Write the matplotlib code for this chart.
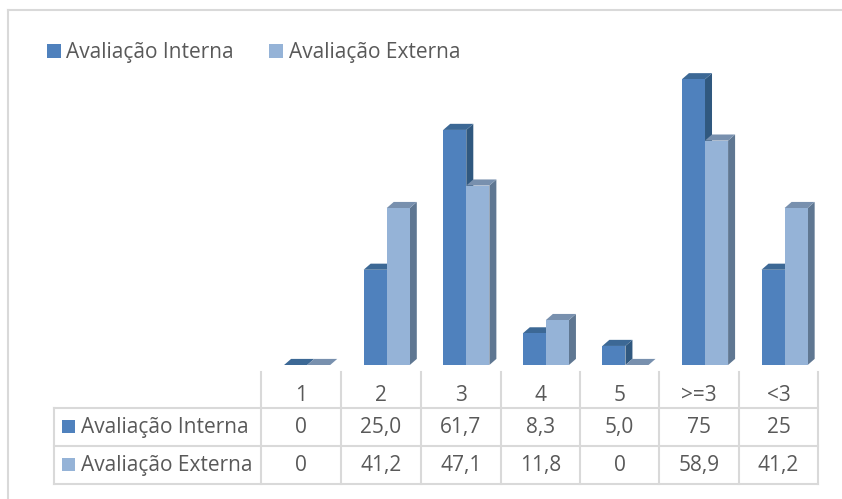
import matplotlib.pyplot as plt
from matplotlib.patches import Polygon, Rectangle
from matplotlib.lines import Line2D

# dados
categorias = ["1", "2", "3", "4", "5", ">=3", "<3"]
interna_txt = ["0", "25,0", "61,7", "8,3", "5,0", "75", "25"]
externa_txt = ["0", "41,2", "47,1", "11,8", "0", "58,9", "41,2"]
interna = [float(v.replace(",", ".")) for v in interna_txt]
externa = [float(v.replace(",", ".")) for v in externa_txt]
series = ["Avaliação Interna", "Avaliação Externa"]

# cores (frente, topo, lado)
cores = [("#4F81BD", "#3C6895", "#30587F"),
         ("#95B3D7", "#7890AE", "#5F7792")]
grade = "#D9D9D9"
texto = "#595959"

plt.rcParams['font.family'] = ['Open Sans', 'DejaVu Sans']
fs = 15

W, H = 842, 499
fig = plt.figure(figsize=(W / 100, H / 100), dpi=100)


def fx(x):
    return x / W


def fy(y):
    return 1 - y / H


def linha(x0, y0, x1, y1):
    fig.add_artist(Line2D([fx(x0), fx(x1)], [fy(y0), fy(y1)], color=grade, linewidth=1.5))


def rotulo(x, y, s, ha='center'):
    fig.text(fx(x), fy(y), s, fontsize=fs, color=texto, ha=ha, va='baseline')


# moldura do gráfico (só topo e esquerda aparecem)
linha(8, 10, W + 5, 10)
linha(8, 10, 8, H + 5)

# área das barras
ax = fig.add_axes([fx(261), fy(365), 557 / W, 304.8 / H])
ax.set_xlim(-0.5, 6.5)
ax.set_ylim(0, 80)
ax.axis('off')

w = 0.29      # largura de cada barra
desl = 0.08   # deslocamento do par
dx, dy = 0.088, 1.6  # profundidade 3D

for s, vals in enumerate([interna, externa]):
    frente, topo, lado = cores[s]
    for i, v in enumerate(vals):
        x0 = i + desl - w + s * w
        ax.add_patch(Polygon([(x0 + w, 0), (x0 + w + dx, dy), (x0 + w + dx, v + dy), (x0 + w, v)],
                             closed=True, facecolor=lado, edgecolor='none', clip_on=False))
        ax.add_patch(Polygon([(x0, v), (x0 + w, v), (x0 + w + dx, v + dy), (x0 + dx, v + dy)],
                             closed=True, facecolor=topo, edgecolor='none', clip_on=False))
        ax.bar(x0, v, width=w, align='edge', color=frente, edgecolor='none', clip_on=False)

# legenda superior
leg_x = [(47, 66), (269, 289)]
for s, nome in enumerate(series):
    qx, tx = leg_x[s]
    fig.add_artist(Rectangle((fx(qx), fy(58)), 14 / W, 14 / H, transform=fig.transFigure,
                             facecolor=cores[s][0], edgecolor='none'))
    rotulo(tx, 58, nome, ha='left')

# tabela de dados
bordas = [261, 341, 420.7, 500.7, 580, 659.3, 738.7, 818.3]
for y in [407.5, 446, 484]:
    linha(54, y, 818.3, y)
for x in bordas:
    linha(x, 371.5, x, 484)
linha(54, 407.5, 54, 484)

for j, cat in enumerate(categorias):
    cx = (bordas[j] + bordas[j + 1]) / 2
    rotulo(cx, 401, cat)
    rotulo(cx, 433, interna_txt[j])
    rotulo(cx, 471, externa_txt[j])

for s, (nome, y) in enumerate(zip(series, [433, 471])):
    fig.add_artist(Rectangle((fx(62), fy(y)), 13 / W, 13 / H, transform=fig.transFigure,
                             facecolor=cores[s][0], edgecolor='none'))
    rotulo(81, y, nome, ha='left')

fig.savefig('out.png', dpi=100)
